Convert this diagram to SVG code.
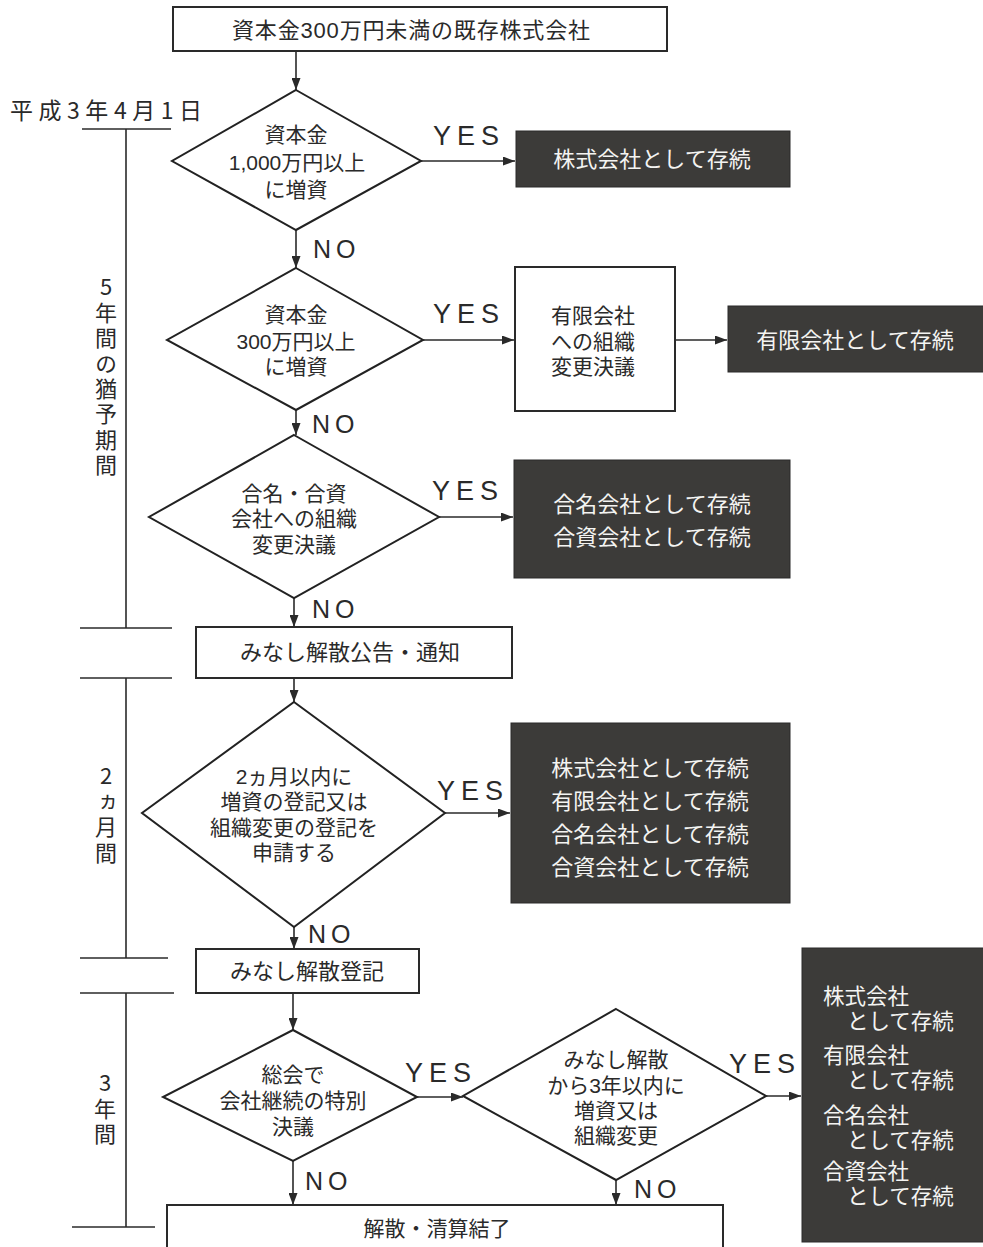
<svg xmlns="http://www.w3.org/2000/svg" width="983" height="1247" viewBox="0 0 983 1247">
<style>
.bg{fill:#ffffff}
.box{fill:#ffffff;stroke:#2a2a2a;stroke-width:2}
.dia{fill:#ffffff;stroke:#222222;stroke-width:2}
.dark{fill:#3c3b39;stroke:#2a2a2a;stroke-width:1}
.ln{fill:none;stroke:#2a2a2a;stroke-width:1.6}
.tl{fill:none;stroke:#2a2a2a;stroke-width:1.6}
.jp{font-family:"Liberation Sans","Noto Sans CJK JP",sans-serif;font-size:21px;fill:#2a2a2a;text-anchor:middle;dominant-baseline:central}
.jpw{font-family:"Liberation Sans","Noto Sans CJK JP",sans-serif;font-size:22px;fill:#f4f4f2;text-anchor:middle;dominant-baseline:central}
.jpws{font-family:"Liberation Sans","Noto Sans CJK JP",sans-serif;font-size:21.5px;fill:#f4f4f2;text-anchor:start;dominant-baseline:central}
.lbl{font-family:"Liberation Sans","DejaVu Sans",sans-serif;fill:#2a2a2a}
.yes{font-size:27px;letter-spacing:6px}
.no{font-size:25px;letter-spacing:5px}
.date{font-family:"Noto Sans CJK JP","Noto Sans",sans-serif;font-size:23px;fill:#2a2a2a;dominant-baseline:central}
.vt{font-family:"Noto Sans CJK JP","Noto Sans",sans-serif;font-size:22px;fill:#2a2a2a;writing-mode:vertical-rl;text-orientation:upright;letter-spacing:3.4px}
</style>
<defs>
<marker id="ah" markerWidth="13" markerHeight="9" refX="12" refY="4.5" orient="auto" markerUnits="userSpaceOnUse">
<path d="M0,0 L12,4.5 L0,9 z" fill="#2a2a2a"/>
</marker>
</defs>
<rect class="bg" x="0" y="0" width="983" height="1247"/>

<g id="timeline">
<text class="date" x="10" y="109" textLength="192" lengthAdjust="spacing">平成3年4月1日</text>
<line class="tl" x1="82" y1="129" x2="171" y2="129"/>
<line class="tl" x1="126" y1="129" x2="126" y2="628"/>
<line class="tl" x1="80" y1="628" x2="172" y2="628"/>
<line class="tl" x1="80" y1="678" x2="172" y2="678"/>
<line class="tl" x1="126" y1="678" x2="126" y2="958"/>
<line class="tl" x1="80" y1="958" x2="168" y2="958"/>
<line class="tl" x1="80" y1="993" x2="174" y2="993"/>
<line class="tl" x1="126" y1="993" x2="126" y2="1227"/>
<line class="tl" x1="72" y1="1227" x2="155" y2="1227"/>
<text class="vt" x="106" y="276">5年間の猶予期間</text>
<text class="vt" x="106" y="765">2ヵ月間</text>
<text class="vt" x="105" y="1072">3年間</text>
</g>

<g id="connectors">
<line class="ln" x1="296" y1="51" x2="296" y2="90" marker-end="url(#ah)"/>
<line class="ln" x1="296" y1="230" x2="296" y2="268" marker-end="url(#ah)"/>
<line class="ln" x1="421" y1="161" x2="515" y2="161" marker-end="url(#ah)"/>
<line class="ln" x1="296" y1="410" x2="296" y2="435" marker-end="url(#ah)"/>
<line class="ln" x1="423" y1="340" x2="514" y2="340" marker-end="url(#ah)"/>
<line class="ln" x1="675" y1="340" x2="727" y2="340" marker-end="url(#ah)"/>
<line class="ln" x1="439" y1="517" x2="513" y2="517" marker-end="url(#ah)"/>
<line class="ln" x1="294" y1="598" x2="294" y2="627" marker-end="url(#ah)"/>
<line class="ln" x1="294" y1="677" x2="294" y2="702" marker-end="url(#ah)"/>
<line class="ln" x1="445" y1="813" x2="510" y2="813" marker-end="url(#ah)"/>
<line class="ln" x1="294" y1="927" x2="294" y2="949" marker-end="url(#ah)"/>
<line class="ln" x1="293" y1="993" x2="293" y2="1030" marker-end="url(#ah)"/>
<line class="ln" x1="417" y1="1097" x2="463" y2="1097" marker-end="url(#ah)"/>
<line class="ln" x1="293" y1="1161" x2="293" y2="1205" marker-end="url(#ah)"/>
<line class="ln" x1="766" y1="1096" x2="801" y2="1096" marker-end="url(#ah)"/>
<line class="ln" x1="616" y1="1180" x2="616" y2="1205" marker-end="url(#ah)"/>
<text class="lbl yes" x="433" y="145">YES</text>
<text class="lbl yes" x="433" y="323">YES</text>
<text class="lbl yes" x="432" y="500">YES</text>
<text class="lbl yes" x="437" y="800">YES</text>
<text class="lbl yes" x="405" y="1082">YES</text>
<text class="lbl yes" x="729" y="1073">YES</text>
<text class="lbl no" x="313" y="258">NO</text>
<text class="lbl no" x="312" y="433">NO</text>
<text class="lbl no" x="312" y="618">NO</text>
<text class="lbl no" x="308" y="943">NO</text>
<text class="lbl no" x="305" y="1190">NO</text>
<text class="lbl no" x="634" y="1198">NO</text>
</g>

<g id="start">
<rect class="box" x="173" y="7" width="494" height="44"/>
<text class="jp" x="411" y="30" style="font-size:22px" textLength="358" lengthAdjust="spacing">資本金300万円未満の既存株式会社</text>
</g>

<g id="q1">
<polygon class="dia" points="296,90 421,161 296,230 172,161"/>
<text class="jp"><tspan x="296" y="134">資本金</tspan><tspan x="297" y="162">1,000万円以上</tspan><tspan x="296" y="189">に増資</tspan></text>
</g>

<g id="r1">
<rect class="dark" x="516" y="131" width="274" height="56"/>
<text class="jpw" x="652" y="159">株式会社として存続</text>
</g>

<g id="q2">
<polygon class="dia" points="296,268 423,340 296,410 167,340"/>
<text class="jp"><tspan x="296" y="314">資本金</tspan><tspan x="296" y="341">300万円以上</tspan><tspan x="296" y="366">に増資</tspan></text>
</g>

<g id="p2">
<rect class="box" x="515" y="267" width="160" height="144"/>
<text class="jp"><tspan x="593" y="315">有限会社</tspan><tspan x="593" y="341">への組織</tspan><tspan x="593" y="366">変更決議</tspan></text>
</g>

<g id="r2">
<rect class="dark" x="728" y="306" width="260" height="66"/>
<text class="jpw" x="855" y="340">有限会社として存続</text>
</g>

<g id="q3">
<polygon class="dia" points="294,435 439,517 294,598 149,517"/>
<text class="jp"><tspan x="294" y="493">合名・合資</tspan><tspan x="294" y="518">会社への組織</tspan><tspan x="294" y="544">変更決議</tspan></text>
</g>

<g id="r3">
<rect class="dark" x="514" y="460" width="276" height="118"/>
<text class="jpw"><tspan x="652" y="504">合名会社として存続</tspan><tspan x="652" y="537">合資会社として存続</tspan></text>
</g>

<g id="notice">
<rect class="box" x="196" y="627" width="316" height="51"/>
<text class="jp" x="350" y="652" style="font-size:22px">みなし解散公告・通知</text>
</g>

<g id="q4">
<polygon class="dia" points="294,702 445,813 294,927 142,813"/>
<text class="jp"><tspan x="294" y="776">2ヵ月以内に</tspan><tspan x="294" y="801">増資の登記又は</tspan><tspan x="294" y="827">組織変更の登記を</tspan><tspan x="294" y="852">申請する</tspan></text>
</g>

<g id="r4">
<rect class="dark" x="511" y="723" width="279" height="180"/>
<text class="jpw"><tspan x="650" y="768">株式会社として存続</tspan><tspan x="650" y="801">有限会社として存続</tspan><tspan x="650" y="834">合名会社として存続</tspan><tspan x="650" y="867">合資会社として存続</tspan></text>
</g>

<g id="registry">
<rect class="box" x="196" y="949" width="223" height="44"/>
<text class="jp" x="307" y="971" style="font-size:22px">みなし解散登記</text>
</g>

<g id="q5">
<polygon class="dia" points="293,1030 417,1097 293,1161 163,1097"/>
<text class="jp"><tspan x="293" y="1074">総会で</tspan><tspan x="293" y="1100">会社継続の特別</tspan><tspan x="293" y="1126">決議</tspan></text>
</g>

<g id="q6">
<polygon class="dia" points="616,1009 766,1096 616,1180 463,1096"/>
<text class="jp"><tspan x="616" y="1059">みなし解散</tspan><tspan x="616" y="1085">から3年以内に</tspan><tspan x="616" y="1110">増資又は</tspan><tspan x="616" y="1135">組織変更</tspan></text>
</g>

<g id="r6">
<rect class="dark" x="802" y="948" width="186" height="294"/>
<text class="jpws"><tspan x="823" y="997">株式会社</tspan><tspan x="847" y="1022">として存続</tspan><tspan x="823" y="1056">有限会社</tspan><tspan x="847" y="1081">として存続</tspan><tspan x="823" y="1116">合名会社</tspan><tspan x="847" y="1141">として存続</tspan><tspan x="823" y="1172">合資会社</tspan><tspan x="847" y="1197">として存続</tspan></text>
</g>

<g id="end">
<rect class="box" x="167" y="1205" width="556" height="50"/>
<text class="jp" x="437" y="1228">解散・清算結了</text>
</g>
</svg>
